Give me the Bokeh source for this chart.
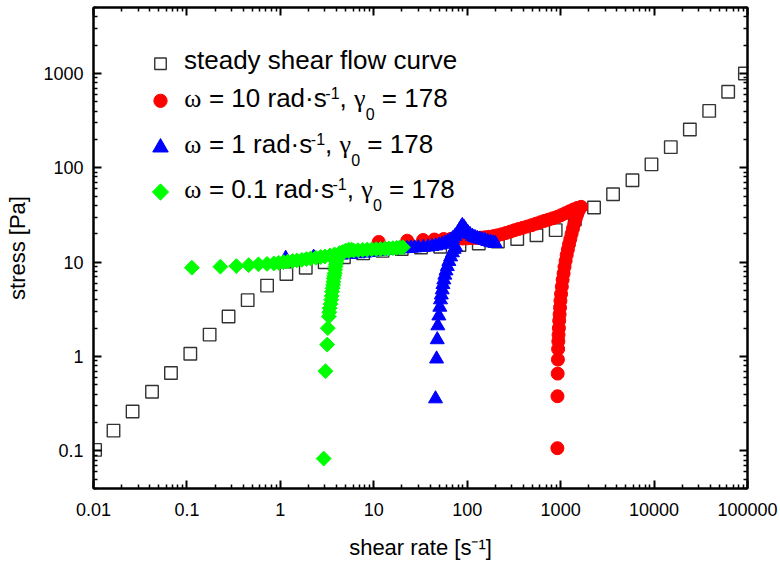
import numpy as np
from bokeh.plotting import figure
from bokeh.models import (Range1d, LinearScale, LogAxis, FixedTicker,
                          CustomJSTickFormatter)
from bokeh.core.properties import value
from bokeh.embed import file_html
from bokeh.resources import INLINE

# ---------------- data ----------------
flow_rate = [0.0104, 0.01637, 0.0262, 0.0423, 0.0675, 0.1087, 0.175, 0.279, 0.447,
             0.721, 1.16, 1.87, 2.98, 4.79, 7.70, 12.4, 19.9, 32.0, 51.4, 82.6, 133,
             213, 343, 551, 885, 1420, 2277, 3640, 5870, 9380, 15100, 24150, 38900,
             62100, 93800]
flow_stress = [0.1026, 0.164, 0.262, 0.424, 0.671, 1.07, 1.71, 2.66, 3.96, 5.65, 7.5,
               8.75, 9.98, 11.3, 12.4, 13.2, 13.8, 14.3, 14.6, 15.2, 15.8, 16.6, 17.6,
               19.3, 21.9, 28.5, 37.96, 52.5, 73.8, 108.7, 165.6, 254.5, 401, 641, 1000]

# omega = 10 rad/s
w10_rate = [923, 925, 930, 935, 940, 945, 950, 958, 965, 975, 985, 995, 1010, 1030,
            1050, 1075, 1100, 1130, 1160, 1195, 1230, 1270, 1310, 1355, 1400, 1450,
            1500, 1560, 1620, 1660,
            1510, 1370, 1240, 1120, 1010, 915, 825, 745, 670, 605, 545, 490, 440, 395,
            355, 320, 290, 260, 235, 212, 192, 173, 156, 140, 125, 112, 100, 89, 78,
            67, 56, 44.5, 33.7, 22.8, 11.3]
w10_stress = [0.107, 0.38, 0.66, 0.93, 1.2, 1.45, 1.7, 2.0, 2.4, 2.8, 3.3, 3.9, 4.6,
              5.5, 6.5, 7.6, 8.9, 10.3, 11.9, 13.6, 15.5, 17.6, 20.0, 22.7, 25.6, 28.8,
              32.0, 35.2, 37.8, 38.6,
              37.6, 36.2, 34.6, 33.0, 31.5, 30.2, 29.2, 28.3, 27.4, 26.5, 25.6, 24.7,
              23.9, 23.2, 22.5, 21.8, 21.1, 20.4, 19.8, 19.3, 18.9, 18.6, 18.4, 18.2,
              18.1, 18.0, 17.9, 17.8, 17.8, 17.7, 17.6, 17.4, 17.2, 16.9, 16.4]

# omega = 1 rad/s
w1_rate = [45.8, 47.0, 47.8, 48.5, 49.7, 50.9, 51.8, 52.8, 54.0, 55.0, 56.2, 57.6,
           59.3, 61.2, 63.6, 66.4, 69.5, 72.5, 75.1,
           1.14, 2.27, 3.4, 4.5, 5.7, 6.8, 8.0, 9.1, 10.2, 11.4, 12.5, 13.6, 15.9,
           18.2, 20.5, 22.8, 25.0, 27.3, 30.0, 34.0, 38.0, 42.0, 46.0, 50.0, 54.0,
           58.0, 62.0, 66.0, 70.0, 74.0, 78.0, 82.0, 85.5, 88.5, 92.0, 96.0, 101,
           107, 114, 121, 128, 136, 145, 155, 166, 178, 190, 200]
w1_stress = [0.357, 0.944, 1.51, 2.12, 2.70, 3.34, 4.0, 4.5, 5.1, 5.8, 6.5, 7.3, 8.1,
             9.0, 10.2, 11.4, 12.6, 13.7, 14.5,
             11.0, 11.3, 11.6, 11.9, 12.1, 12.3, 12.5, 12.7, 12.9, 13.0, 13.2, 13.3,
             13.5, 13.7, 13.9, 14.0, 14.1, 14.2, 14.3, 14.4, 14.5, 14.7, 14.9, 15.2,
             15.5, 15.9, 16.4, 17.0, 17.8, 18.8, 20.0, 21.6, 23.2, 24.5, 23.6, 22.2,
             20.8, 19.7, 18.8, 18.3, 17.9, 17.6, 17.3, 17.0, 16.6, 16.3, 16.0, 15.8]

# omega = 0.1 rad/s
w01_rate = [2.91, 3.04, 3.17, 3.22, 3.30, 3.34, 3.37, 3.44, 3.50, 3.54, 3.58, 3.62,
            3.67, 3.70, 3.73, 3.78, 3.82, 3.86, 3.89, 3.93, 3.97, 4.02, 4.06, 4.3,
            4.6, 5.0, 5.4, 5.8,
            0.113, 0.228, 0.338, 0.458, 0.583, 0.72, 0.85, 0.96, 1.08, 1.2, 1.35,
            1.5, 1.7, 1.9, 2.1, 2.4, 2.7, 3.0, 3.4, 3.8, 4.3, 4.8, 5.4, 6.1, 6.8,
            7.6, 8.5, 9.5, 10.6, 11.8, 13.1, 14.5, 16.0, 17.5, 19.0, 20.5]
w01_stress = [0.083, 0.70, 1.34, 2.0, 2.66, 2.95, 3.26, 3.6, 3.99, 4.4, 4.88, 5.3,
              5.74, 6.2, 6.76, 7.2, 7.63, 8.3, 8.97, 9.5, 10.1, 10.7, 11.4, 12.2,
              12.8, 13.3, 13.6, 13.6,
              8.75, 8.97, 9.1, 9.3, 9.5, 9.6, 9.7, 9.85, 10.0, 10.15, 10.3, 10.45,
              10.6, 10.8, 10.95, 11.15, 11.35, 11.5, 11.8, 12.1, 12.5, 12.8, 13.1,
              13.3, 13.4, 13.5, 13.6, 13.7, 13.75, 13.8, 13.9, 14.0, 14.1, 14.2,
              14.3, 14.4]

x_major = [0.01, 0.1, 1, 10, 100, 1000, 10000, 100000]
y_major = [0.1, 1, 10, 100, 1000]
x_label = "shear rate [s\u207b\u00b9]"
y_label = "stress [Pa]"

legend_rows = [
    [("steady shear flow curve", "sans", 26, 0)],
    [("\u03c9", "serif", 26, 0), (" = 10 rad\u00b7s", "sans", 26, 0), ("-1", "sans", 16, 8.4),
     (",", "sans", 26, 0), (" \u03b3", "serif", 26, 0), ("0", "sans", 16, -12.5),
     (" = 178", "sans", 26, 0)],
    [("\u03c9", "serif", 26, 0), (" = 1 rad\u00b7s", "sans", 26, 0), ("-1", "sans", 16, 8.4),
     (",", "sans", 26, 0), (" \u03b3", "serif", 26, 0), ("0", "sans", 16, -12.5),
     (" = 178", "sans", 26, 0)],
    [("\u03c9", "serif", 26, 0), (" = 0.1 rad\u00b7s", "sans", 26, 0), ("-1", "sans", 16, 8.4),
     (",", "sans", 26, 0), (" \u03b3", "serif", 26, 0), ("0", "sans", 16, -12.5),
     (" = 178", "sans", 26, 0)],
]

# ---------------- layout (pixels) ----------------
W, H = 780, 562
B_LEFT, B_RIGHT, B_TOP, B_BOTTOM = 93, 33, 7, 74
FRAME_W = W - B_LEFT - B_RIGHT
FRAME_H = H - B_TOP - B_BOTTOM
SANS = "Liberation Sans"
SERIF = "Liberation Serif"

p = figure(width=W, height=H, x_axis_type="log", y_axis_type="log",
           x_range=Range1d(0.01, 100000), y_range=Range1d(0.04, 5000),
           output_backend="svg", toolbar_location=None,
           min_border_left=B_LEFT, min_border_right=B_RIGHT, min_border_top=B_TOP,
           min_border_bottom=B_BOTTOM)
p.xgrid.visible = False
p.ygrid.visible = False
p.outline_line_color = "black"
p.outline_line_width = 2
p.background_fill_color = "white"
p.border_fill_color = "white"

# pixel space of the frame (origin bottom-left) for the legend block
p.extra_x_ranges = {"px": Range1d(0, FRAME_W)}
p.extra_y_ranges = {"px": Range1d(0, FRAME_H)}
p.extra_x_scales = {"px": LinearScale()}
p.extra_y_scales = {"px": LinearScale()}

x_minor = [m * 10.0 ** e for e in range(-2, 5) for m in range(2, 10)]
y_minor = [m * 10.0 ** e for e in range(-2, 4) for m in range(2, 10)
           if 0.04 <= m * 10.0 ** e <= 5000]
xt = FixedTicker(ticks=x_major, minor_ticks=x_minor)
yt = FixedTicker(ticks=y_major, minor_ticks=y_minor)


def style_axis(ax, ticker, show):
    ax.ticker = ticker
    ax.axis_line_width = 2
    ax.axis_line_color = "black"
    ax.major_tick_in = 8
    ax.major_tick_out = 0
    ax.minor_tick_in = 4
    ax.minor_tick_out = 0
    ax.major_tick_line_width = 2
    ax.minor_tick_line_width = 1.5
    ax.major_tick_line_color = "black"
    ax.minor_tick_line_color = "black"
    if show:
        ax.formatter = CustomJSTickFormatter(code="return String(tick);")
        ax.major_label_text_font = SANS
        ax.major_label_text_font_size = "18px"
        ax.major_label_text_color = "black"
        ax.axis_label_text_font = SANS
        ax.axis_label_text_font_size = "22px"
        ax.axis_label_text_font_style = "normal"
        ax.axis_label_text_color = "black"
    else:
        ax.formatter = CustomJSTickFormatter(code="return '';")
        ax.major_label_text_font_size = "1px"
        ax.major_label_standoff = 0


xa = p.xaxis[0]
ya = p.yaxis[0]
style_axis(xa, xt, True)
style_axis(ya, yt, True)
xa.axis_label = x_label
ya.axis_label = y_label
xa.major_label_standoff = 14
xa.axis_label_standoff = 16
ya.major_label_standoff = 10
ya.axis_label_standoff = 10

top = LogAxis()
style_axis(top, xt, False)
p.add_layout(top, "above")
right = LogAxis()
style_axis(right, yt, False)
p.add_layout(right, "right")

# ---------------- data marks ----------------
SQ_STYLE = dict(marker="square", fill_color=None, line_color="#333333", line_width=1.4)
RED_STYLE = dict(marker="circle", fill_color="#ff0000", line_color="#ff0000")
BLUE_STYLE = dict(marker="triangle", fill_color="#0000ff", line_color="#0000ff")
GREEN_STYLE = dict(marker="square", angle=np.pi / 4, fill_color="#00ff00",
                   line_color="#00ff00")

p.scatter(flow_rate, flow_stress, size=12.5, **SQ_STYLE)
p.scatter(w10_rate, w10_stress, size=13, **RED_STYLE)
p.scatter(w1_rate, w1_stress, size=14, **BLUE_STYLE)
p.scatter(w01_rate, w01_stress, size=10.5, **GREEN_STYLE)

# ---------------- legend block (frame pixel space) ----------------
KEY_X = 67
key_specs = [(424.7, 11.5, SQ_STYLE), (387.7, 13.3, RED_STYLE),
             (341.0, 15.5, BLUE_STYLE), (296.5, 11.5, GREEN_STYLE)]
for ky, ks, st in key_specs:
    p.scatter([KEY_X], [ky], size=ks, x_range_name="px", y_range_name="px", **st)

W_SANS = {' ': 278, '=': 584, '.': 278, ',': 278, '-': 333, 'r': 333, 'a': 556,
          'd': 556, 's': 500, '\u00b7': 278}
for dch in "0123456789":
    W_SANS[dch] = 556
W_SERIF = {'\u03c9': 670, '\u03b3': 450, ' ': 250}


def width(text, kind, size):
    tab = W_SERIF if kind == "serif" else W_SANS
    return sum(tab.get(c, 556) for c in text) * size / 1000.0


MID = 0.3465   # distance of the em-box middle above the baseline, in em
row_starts = [90.5, 90.8, 90.8, 90.8]          # from the frame's left edge
row_baselines = [419.7, 381.4, 335.4, 290.4]   # above the frame's bottom edge
for pieces, x0, base in zip(legend_rows, row_starts, row_baselines):
    cx = x0
    for text, kind, size, dy in pieces:
        lead = text[:len(text) - len(text.lstrip(" "))]
        cx += width(" " * len(lead), "sans", size)
        body = text.lstrip(" ")
        p.text([cx], [base + dy + MID * size], text=[body],
               x_range_name="px", y_range_name="px",
               text_font=value(SERIF if kind == "serif" else SANS),
               text_font_size=value(f"{size}px"), text_color="black",
               text_baseline="middle", text_align="left")
        cx += width(body, kind, size)

open("out.html", "w").write(file_html(p, INLINE))
